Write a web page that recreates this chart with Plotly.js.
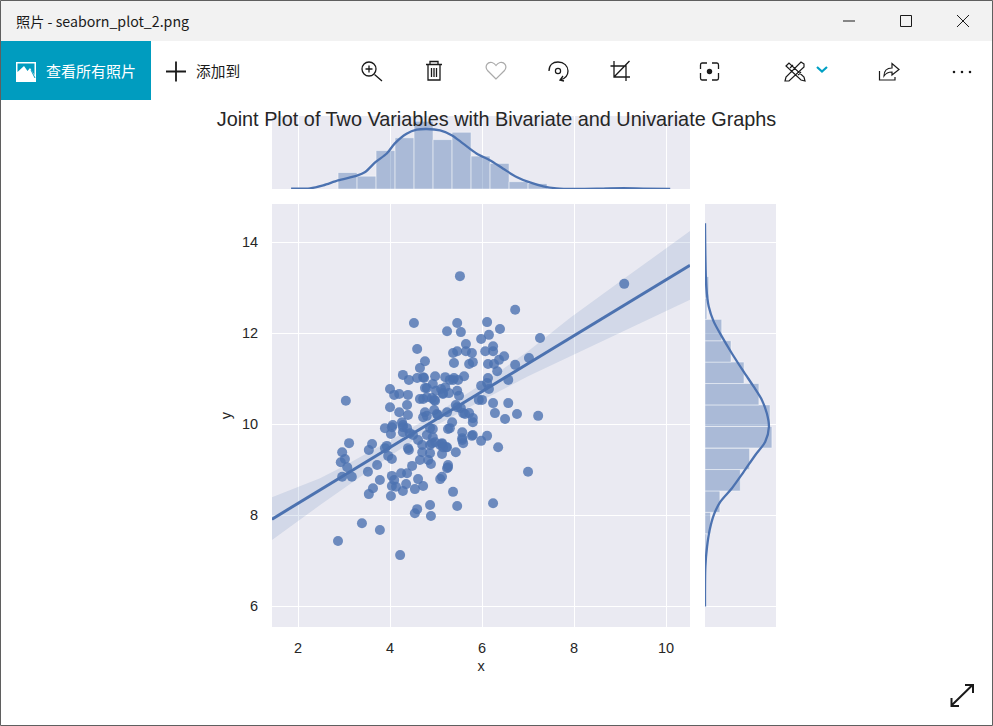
<!DOCTYPE html>
<html>
<head>
<meta charset="utf-8">
<script src="https://cdn.plot.ly/plotly-3.0.1.min.js"></script>
<style>html,body{margin:0;padding:0;background:#fff;overflow:hidden}</style>
</head>
<body>
<div id="chart" style="width:993px;height:726px"></div>
<script>
const titleText = "Joint Plot of Two Variables with Bivariate and Univariate Graphs";
const xTicks = [2,4,6,8,10];
const yTicks = [6,8,10,12,14];

const scatterX = [9.09,5.52,6.72,4.52,5.46,6.11,5.24,5.54,6.39,7.26,5.98,6.15,4.59,5.65,6.24,6.07,6.24,5.46,5.37,5.65,5.78,6.48,6.37,7.02,4.76,5.39,5.72,5.80,6.13,6.26,6.72,6.33,4.65,
4.98,5.20,5.61,4.74,5.39,5.30,5.48,6.13,6.57,4.28,4.41,4.59,4.72,4.93,6.11,5.98,6.15,4.80,5.20,5.11,5.46,5.00,5.28,5.15,5.50,4.91,4.72,5.93,6.00,6.24,6.57,4.98,4.00,4.09,4.20,4.39,3.04,4.37,4.00,4.20,
4.65,5.46,5.54,4.76,4.96,5.24,5.02,5.59,5.72,6.28,6.76,7.22,6.50,5.80,5.35,4.80,4.39,4.72,5.04,5.80,3.89,4.04,4.02,4.26,4.28,4.28,4.43,4.93,5.26,4.80,4.61,4.70,4.98,5.13,5.24,4.87,
3.11,2.96,3.61,3.54,3.89,2.93,3.02,3.07,3.96,4.04,4.41,4.70,4.87,5.13,4.65,4.83,4.89,4.48,5.26,3.52,3.72,2.96,3.17,4.04,4.24,4.37,3.78,4.09,4.61,5.13,5.09,3.63,4.04,4.13,4.35,4.72,4.28,4.54,3.54,4.02,
4.87,4.59,4.54,4.89,3.39,3.78,2.87,4.22,7.00,6.24,5.37,5.46,5.57,5.57,5.59,5.78,6.11,5.98,6.35,5.43,5.22,5.24,5.26,5.13,5.63,5.43,5.80,4.76,4.80,4.96,5.15,4.37,4.06,4.28,4.50,4.87,5.30,4.93,4.91,5.09,5.15,3.93,4.39,5.57,5.37];
const scatterY = [13.08,13.25,12.51,12.22,12.22,12.24,12.04,12.02,12.09,11.89,11.87,11.96,11.65,11.76,11.71,11.60,11.60,11.60,11.56,11.60,11.56,11.49,11.41,11.45,11.38,11.34,11.32,11.36,11.32,11.32,11.30,11.16,11.23,
11.05,11.03,11.05,11.01,11.01,10.97,10.97,11.01,10.97,11.08,10.97,11.01,11.03,10.88,10.90,10.84,10.77,10.79,10.81,10.77,10.73,10.73,10.68,10.66,10.62,10.57,10.55,10.53,10.53,10.46,10.46,10.51,10.77,10.64,10.66,10.64,10.51,10.42,10.37,10.26,
10.55,10.37,10.35,10.26,10.31,10.26,10.22,10.24,10.24,10.24,10.22,10.18,10.11,10.13,10.04,10.18,10.20,10.15,10.20,10.04,9.91,9.93,9.78,10.04,9.93,9.82,9.80,9.89,9.89,9.76,9.65,9.54,9.60,9.56,9.49,9.54,
9.58,9.38,9.56,9.43,9.47,9.16,9.23,9.05,9.30,9.23,9.43,9.38,9.36,9.34,9.21,9.21,9.12,9.08,9.05,8.95,9.10,8.84,8.84,8.86,8.92,8.92,8.77,8.77,8.79,8.84,8.79,8.59,8.64,8.62,8.68,8.64,8.53,8.57,8.46,8.42,
8.22,8.13,8.04,7.98,7.82,7.67,7.43,7.12,8.95,8.26,8.51,8.20,9.82,9.69,9.58,9.74,9.74,9.63,9.49,9.38,9.49,9.03,9.10,9.58,10.22,10.42,9.76,10.79,10.59,10.53,10.68,9.91,9.98,9.98,9.76,9.91,9.91,9.71,9.58,9.54,9.49,9.52,9.47,9.65,10.97];

const fitX = [1.435,10.52];
const fitY = [7.91,13.49];
const bandX = [1.435,2.48,3,4,5,6,7,7.91,9,10.52];
const bandUpper = [8.39,8.81,9.08,9.64,10.23,10.88,11.60,12.33,13.13,14.24];
const bandLower = [7.45,8.22,8.60,9.30,9.97,10.52,11.05,11.47,12.00,12.73];

const topBinCenters = [3.077,3.490,3.903,4.316,4.729,5.142,5.555,5.968,6.381,6.794,7.207,7.620,8.033,8.446,8.859];
const topBinCounts = [9,7,21,28,37,27,31,18,14,4,3,0,0,0,1];
const topKdeX = [1.85,2.26,2.55,2.87,3.28,3.46,3.69,3.93,4.10,4.36,4.58,4.80,5.09,5.35,5.59,5.88,6.17,6.46,6.75,7.04,7.33,7.62,7.98,8.64,9.07,9.50,10.09];
const topKdeY = [0.2,0.36,2.0,4.7,7.3,9.3,14.8,19.4,24.8,30.2,32.4,32.8,32.0,29.3,24.8,19.4,15.7,11.1,6.6,3.6,1.5,0.4,0.0,0.2,0.4,0.2,0];

const rightBinCenters = [7.355,7.825,8.295,8.765,9.235,9.71,10.185,10.655,11.125,11.595,12.065,12.535,13.005];
const rightBinCounts = [1,3,8,19,24,36,35,29,21,14,9,1,2];
const rightKdeY = [14.41,13.71,13.02,12.58,12.25,11.92,11.55,11.15,10.82,10.53,10.23,9.94,9.61,9.32,8.95,8.59,8.29,8.0,7.67,7.30,6.86,5.99];
const rightKdeX = [0,0.2,0.7,2.0,4.7,9.1,14.5,20.8,26.2,30.6,33.3,34.4,32.4,27.1,20.8,14.5,8.2,4.7,2.5,1.1,0.2,0];

const blue = '#4c72b0';
const W = 993, H = 726;
const fx = p => p / W, fy = p => 1 - p / H;

const traces = [
  {type:'scatter',mode:'markers',x:scatterX,y:scatterY,xaxis:'x',yaxis:'y',
   marker:{size:10,color:'rgba(76,114,176,0.8)',line:{width:0}},hoverinfo:'skip'},
  {type:'scatter',mode:'lines',x:bandX.concat(bandX.slice().reverse()),y:bandUpper.concat(bandLower.slice().reverse()),
   xaxis:'x',yaxis:'y',fill:'toself',fillcolor:'rgba(76,114,176,0.15)',line:{width:0,color:'rgba(0,0,0,0)'},hoverinfo:'skip'},
  {type:'scatter',mode:'lines',x:fitX,y:fitY,xaxis:'x',yaxis:'y',line:{color:blue,width:3},hoverinfo:'skip'},
  {type:'bar',x:topBinCenters,y:topBinCounts,width:0.413,xaxis:'x2',yaxis:'y2',
   marker:{color:'rgba(76,114,176,0.4)',line:{color:'rgba(255,255,255,0.45)',width:1}},hoverinfo:'skip'},
  {type:'scatter',mode:'lines',x:topKdeX,y:topKdeY,xaxis:'x2',yaxis:'y2',line:{color:blue,width:2.3,shape:'spline',smoothing:0.8},hoverinfo:'skip'},
  {type:'bar',orientation:'h',y:rightBinCenters,x:rightBinCounts,width:0.471,xaxis:'x3',yaxis:'y3',
   marker:{color:'rgba(76,114,176,0.4)',line:{color:'rgba(255,255,255,0.45)',width:1}},hoverinfo:'skip'},
  {type:'scatter',mode:'lines',x:rightKdeX,y:rightKdeY,xaxis:'x3',yaxis:'y3',line:{color:blue,width:2.3,shape:'spline',smoothing:0.8},hoverinfo:'skip'}
];

const tickFont = {family:'"Liberation Sans", Arial, sans-serif',size:14.5,color:'#262626'};
const grid = {showgrid:true,gridcolor:'#ffffff',gridwidth:1.3,zeroline:false,showline:false,ticks:''};
const xRange = [1.435,10.52], yRange = [5.54,14.835];
const xDom = [fx(272),fx(690)], yDom = [fy(627),fy(204)];

// Window frame of the photo viewer, in screen pixels
function pth(d){ // converts "M x y L x y" pixel path to paper fractions
  const t = d.trim().split(/\s+/); let out=[], i=0;
  while(i<t.length){
    if(/^[A-Za-z]$/.test(t[i])){out.push(t[i]);i++;continue;}
    out.push(fx(+t[i]).toFixed(5)); out.push(fy(+t[i+1]).toFixed(5)); i+=2;
  }
  return out.join(' ');
}
const S = (d,color,w,fill)=>({type:'path',xref:'paper',yref:'paper',layer:'above',path:pth(d),
  line:{color:color||'#000',width:w===undefined?1.2:w},fillcolor:fill||'rgba(0,0,0,0)'});
const R = (x0,y0,x1,y1,fill,lc,lw)=>({type:'rect',xref:'paper',yref:'paper',layer:'below',x0:fx(x0),x1:fx(x1),y0:fy(y0),y1:fy(y1),
  fillcolor:fill||'rgba(0,0,0,0)',line:{width:lw||0,color:lc||'rgba(0,0,0,0)'}});
const C = (cx,cy,r,fill,lc,lw)=>({type:'circle',xref:'paper',yref:'paper',layer:'above',x0:fx(cx-r),x1:fx(cx+r),y0:fy(cy+r),y1:fy(cy-r),
  fillcolor:fill||'rgba(0,0,0,0)',line:{width:lw===undefined?1.2:lw,color:lc||'#000'}});
const ink='#1a1a1a';
const shapes = [
  R(0,0,993,41,'#f2f2f2'),
  R(1,41,151,100,'#009cbf'),
  // gallery icon
  R(16,62,36,82,'#ffffff'),
  S('M 17.5 63.5 L 34.5 63.5 L 34.5 75 L 30 68 L 27.5 71 L 24 66 L 17.5 72 Z','#009cbf',0,'#009cbf'),
  S('M 31 70 L 35 78','#009cbf',1),
  // plus
  S('M 166 71.5 L 186 71.5 M 176 61.5 L 176 81.5',ink,1.8),
  // magnifier
  C(369,69,7,null,ink,1.3),
  S('M 374.5 74.5 L 382 81 M 365.5 69 L 372.5 69 M 369 65.5 L 369 72.5',ink,1.3),
  // trash
  S('M 426 64.5 L 442 64.5 M 430 64 L 430 61.5 L 438 61.5 L 438 64 M 428 65 L 428 80 L 440 80 L 440 65 M 431.5 68 L 431.5 77 M 434 68 L 434 77 M 436.5 68 L 436.5 77',ink,1.3),
  // heart
  S('M 496 79 L 487.5 70.5 C 484 66 488 61.5 492 62.5 C 494 63 495 64 496 65.5 C 497 64 498 63 500 62.5 C 504 61.5 508 66 504.5 70.5 Z','#aaaaaa',1.2),
  // rotate
  S('M 549 71 C 549 65 553 62 558 62 C 564 62 568 66 568 71 C 568 76 564 79 560 80 M 563 76 L 560 80 L 564 81',ink,1.3),
  C(558,71,2.6,null,ink,1.2),
  // crop
  S('M 610.5 66 L 626 66 L 626 81 M 614 61 L 614 77 L 630 77 M 614 77 L 629.5 61',ink,1.3),
  // focus
  S('M 707 63 L 702 63 C 701 63 700.5 64 700.5 65 L 700.5 69 M 712 63 L 717 63 C 718 63 718.5 64 718.5 65 L 718.5 69 M 700.5 73 L 700.5 78 C 700.5 79 701 80 702 80 L 707 80 M 718.5 73 L 718.5 78 C 718.5 79 718 80 717 80 L 712 80',ink,1.3),
  C(709.5,71.5,2.7,ink,ink,0),
  // draw tools
  S('M 786 66 L 789 63 L 804 77 L 805 81 L 801 80 Z M 804 64 L 801 62 L 786 77 L 785 81 L 789 81 L 804 67 Z M 790 68 L 793 65 M 798 75 L 801 72',ink,1.2),
  S('M 817 67 L 822 71.5 L 827 67','#00a0c4',2.2),
  // share
  S('M 879.5 71 L 879.5 80 L 895 80 L 895 77 M 884 76 C 884 70 888 68 892 68 L 892 63.5 L 899 69.5 L 892 75 L 892 72 C 888 72 886 73 884 76 Z',ink,1.2),
  // ellipsis
  C(954,72,1.3,ink,ink,0),C(962,72,1.3,ink,ink,0),C(970,72,1.3,ink,ink,0),
  // window controls
  S('M 843 21 L 855 21',ink,1),
  S('M 900.5 15.5 L 911.5 15.5 L 911.5 26.5 L 900.5 26.5 Z',ink,1),
  S('M 957 15 L 969 27 M 969 15 L 957 27',ink,1),
  // expand arrow
  S('M 952 705 L 972.5 685 M 965 685 L 973 685 L 973 693 M 951.5 698 L 951.5 706 L 959 706',ink,2),
  // outer frame
  Object.assign(R(0.5,0.5,992.5,725.5,null,'#5f5f5f',1),{layer:'above'})
];

const A = (text,x,y,size,color,anchor)=>({text,xref:'paper',yref:'paper',x:fx(x),y:fy(y),xanchor:anchor||'left',yanchor:'middle',
  showarrow:false,font:{family:'"Noto Sans CJK SC","Noto Sans",sans-serif',size,color}});
const annotations = [
  A('照片 - seaborn_plot_2.png',14,21.5,14.2,'#1a1a1a'),
  A('查看所有照片',44,70.5,15,'#ffffff'),
  A('添加到',194,70.5,14.7,'#1a1a1a')
];

const layout = {
  width:W,height:H,margin:{l:0,r:0,t:0,b:0,pad:0},
  paper_bgcolor:'#ffffff',plot_bgcolor:'#eaeaf2',showlegend:false,barmode:'overlay',
  title:{text:titleText,x:fx(496.5),xref:'paper',xanchor:'center',y:fy(119),yref:'paper',yanchor:'middle',
         font:{family:'"Liberation Sans", Arial, sans-serif',size:19.85,color:'#262626'}},
  xaxis:Object.assign({},grid,{domain:xDom,range:xRange,anchor:'y',tickvals:xTicks,tickfont:tickFont,ticks:'outside',ticklen:8,tickcolor:'rgba(0,0,0,0)',
         title:{text:'x',font:tickFont,standoff:5}}),
  yaxis:Object.assign({},grid,{domain:yDom,range:yRange,anchor:'x',tickvals:yTicks,tickfont:tickFont,ticks:'outside',ticklen:10,tickcolor:'rgba(0,0,0,0)',
         title:{text:'y',font:tickFont,standoff:6}}),
  xaxis2:Object.assign({},grid,{domain:xDom,range:xRange,anchor:'y2',tickvals:xTicks,showticklabels:false}),
  yaxis2:Object.assign({},grid,{domain:[fy(189),fy(116)],range:[0,39.9],anchor:'x2',showgrid:false,showticklabels:false}),
  xaxis3:Object.assign({},grid,{domain:[fx(705),fx(776)],range:[0,38.2],anchor:'y3',showgrid:false,showticklabels:false}),
  yaxis3:Object.assign({},grid,{domain:yDom,range:yRange,anchor:'x3',tickvals:yTicks,showticklabels:false}),
  shapes,annotations
};
Plotly.newPlot('chart',traces,layout,{displayModeBar:false,responsive:false});
</script>
</body>
</html>
